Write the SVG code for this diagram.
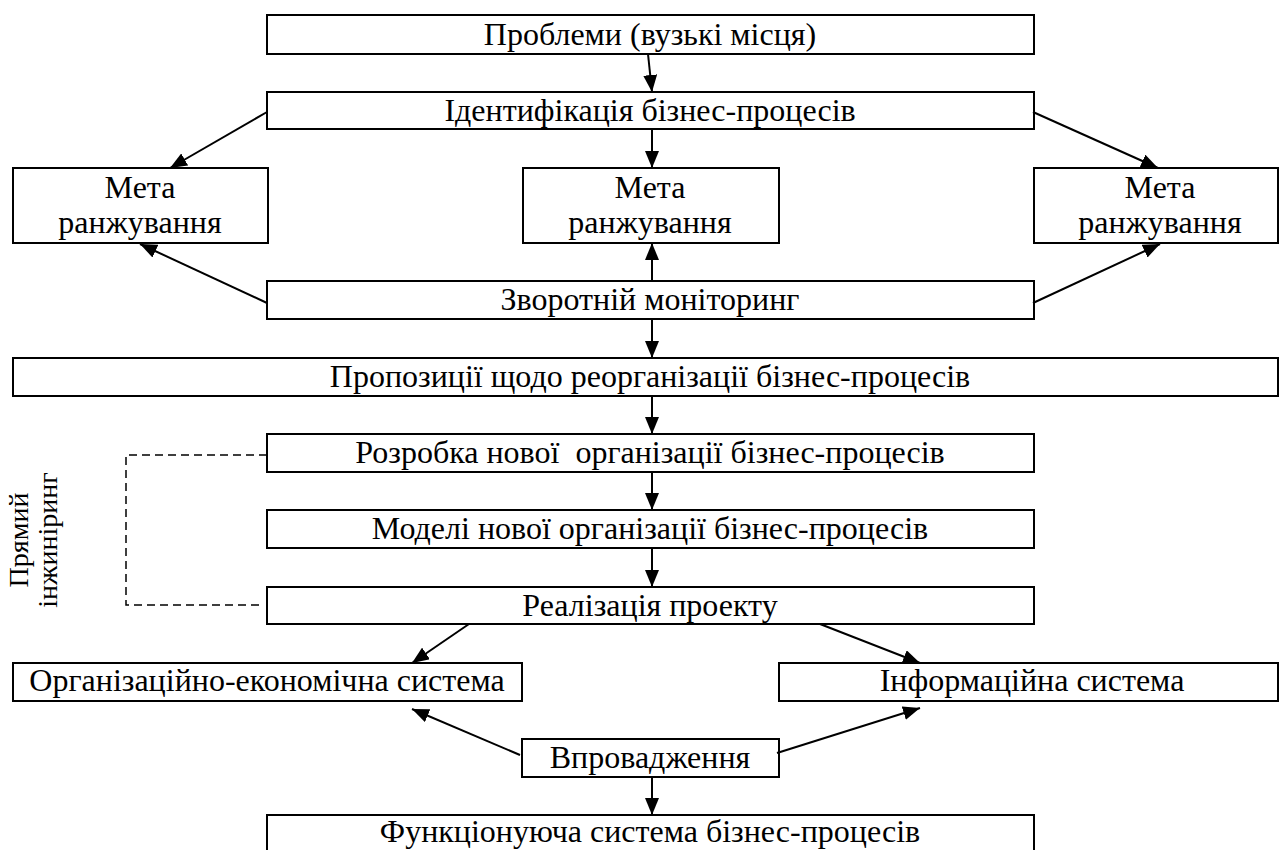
<svg xmlns="http://www.w3.org/2000/svg" width="1280" height="850" viewBox="0 0 1280 850">
  <style>
    .box { fill: #ffffff; stroke: #000000; stroke-width: 2; }
    .t { font-family: "Liberation Serif", "Times New Roman", serif; font-size: 32px; fill: #000000; text-anchor: middle; }
    .rt { font-family: "Liberation Serif", "Times New Roman", serif; font-size: 28px; fill: #000000; text-anchor: middle; }
    .c { fill: none; stroke: #000000; stroke-width: 2; marker-end: url(#arr); }
    .d { fill: none; stroke: #000000; stroke-width: 1.5; stroke-dasharray: 8 5; }
  </style>
  <defs>
    <marker id="arr" markerUnits="userSpaceOnUse" markerWidth="17" markerHeight="14" viewBox="0 0 17 14" refX="17" refY="7" orient="auto">
      <path d="M0,0 L17,7 L0,14 z" fill="#000000"/>
    </marker>
  </defs>
  <rect width="1280" height="850" fill="#ffffff"/>

  <g id="problems">
    <rect class="box" x="267" y="15" width="767" height="39"/>
    <text class="t" x="650" y="45">Проблеми (вузькі місця)</text>
  </g>
  <g id="identification">
    <rect class="box" x="267" y="92" width="767" height="37"/>
    <text class="t" x="650" y="121">Ідентифікація бізнес-процесів</text>
  </g>
  <g id="goal-left">
    <rect class="box" x="13" y="168" width="255" height="75"/>
    <text class="t" x="140" y="198">Мета</text>
    <text class="t" x="140" y="233">ранжування</text>
  </g>
  <g id="goal-middle">
    <rect class="box" x="523" y="168" width="256" height="75"/>
    <text class="t" x="650" y="198">Мета</text>
    <text class="t" x="650" y="233">ранжування</text>
  </g>
  <g id="goal-right">
    <rect class="box" x="1034" y="168" width="244" height="75"/>
    <text class="t" x="1160" y="198">Мета</text>
    <text class="t" x="1160" y="233">ранжування</text>
  </g>
  <g id="monitoring">
    <rect class="box" x="267" y="281" width="767" height="38"/>
    <text class="t" x="650" y="310">Зворотній моніторинг</text>
  </g>
  <g id="proposals">
    <rect class="box" x="13" y="358" width="1265" height="38"/>
    <text class="t" x="650" y="387">Пропозиції щодо реорганізації бізнес-процесів</text>
  </g>
  <g id="development">
    <rect class="box" x="267" y="434" width="767" height="38"/>
    <text class="t" x="650" y="463" xml:space="preserve">Розробка нової  організації бізнес-процесів</text>
  </g>
  <g id="models">
    <rect class="box" x="267" y="510" width="767" height="38"/>
    <text class="t" x="650" y="539">Моделі нової організації бізнес-процесів</text>
  </g>
  <g id="realization">
    <rect class="box" x="267" y="587" width="767" height="37"/>
    <text class="t" x="650" y="616">Реалізація проекту</text>
  </g>
  <g id="org-econ">
    <rect class="box" x="13" y="663" width="509" height="38"/>
    <text class="t" x="267" y="691">Організаційно-економічна система</text>
  </g>
  <g id="info-system">
    <rect class="box" x="779" y="663" width="499" height="38"/>
    <text class="t" x="1032" y="691">Інформаційна система</text>
  </g>
  <g id="implementation">
    <rect class="box" x="522" y="739" width="257" height="38"/>
    <text class="t" x="650" y="768">Впровадження</text>
  </g>
  <g id="functioning">
    <rect class="box" x="267" y="815" width="767" height="45"/>
    <text class="t" x="650" y="842">Функціонуюча система бізнес-процесів</text>
  </g>
  <g id="direct-engineering">
    <text class="rt" x="28" y="540" transform="rotate(-90 28 540)">Прямий</text>
    <text class="rt" x="57" y="540" transform="rotate(-90 57 540)">інжиніринг</text>
  </g>

  <g id="connectors">
    <path class="c" d="M648,54 L652,92"/>
    <path class="c" d="M652,129 L652,168"/>
    <path class="c" d="M267,112 L170,168"/>
    <path class="c" d="M1033,112 L1158,168"/>
    <path class="c" d="M267,303 L140,244"/>
    <path class="c" d="M652,281 L652,243"/>
    <path class="c" d="M1033,303 L1160,244"/>
    <path class="c" d="M652,319 L652,358"/>
    <path class="c" d="M652,396 L652,434"/>
    <path class="c" d="M652,472 L652,510"/>
    <path class="c" d="M652,548 L652,587"/>
    <path class="c" d="M469,624 L412,663"/>
    <path class="c" d="M820,624 L920,663"/>
    <path class="c" d="M520,755 L412,709"/>
    <path class="c" d="M777,753 L920,708"/>
    <path class="c" d="M652,777 L652,815"/>
    <path class="d" d="M267,455 H126 V605 H260"/>
  </g>
</svg>
